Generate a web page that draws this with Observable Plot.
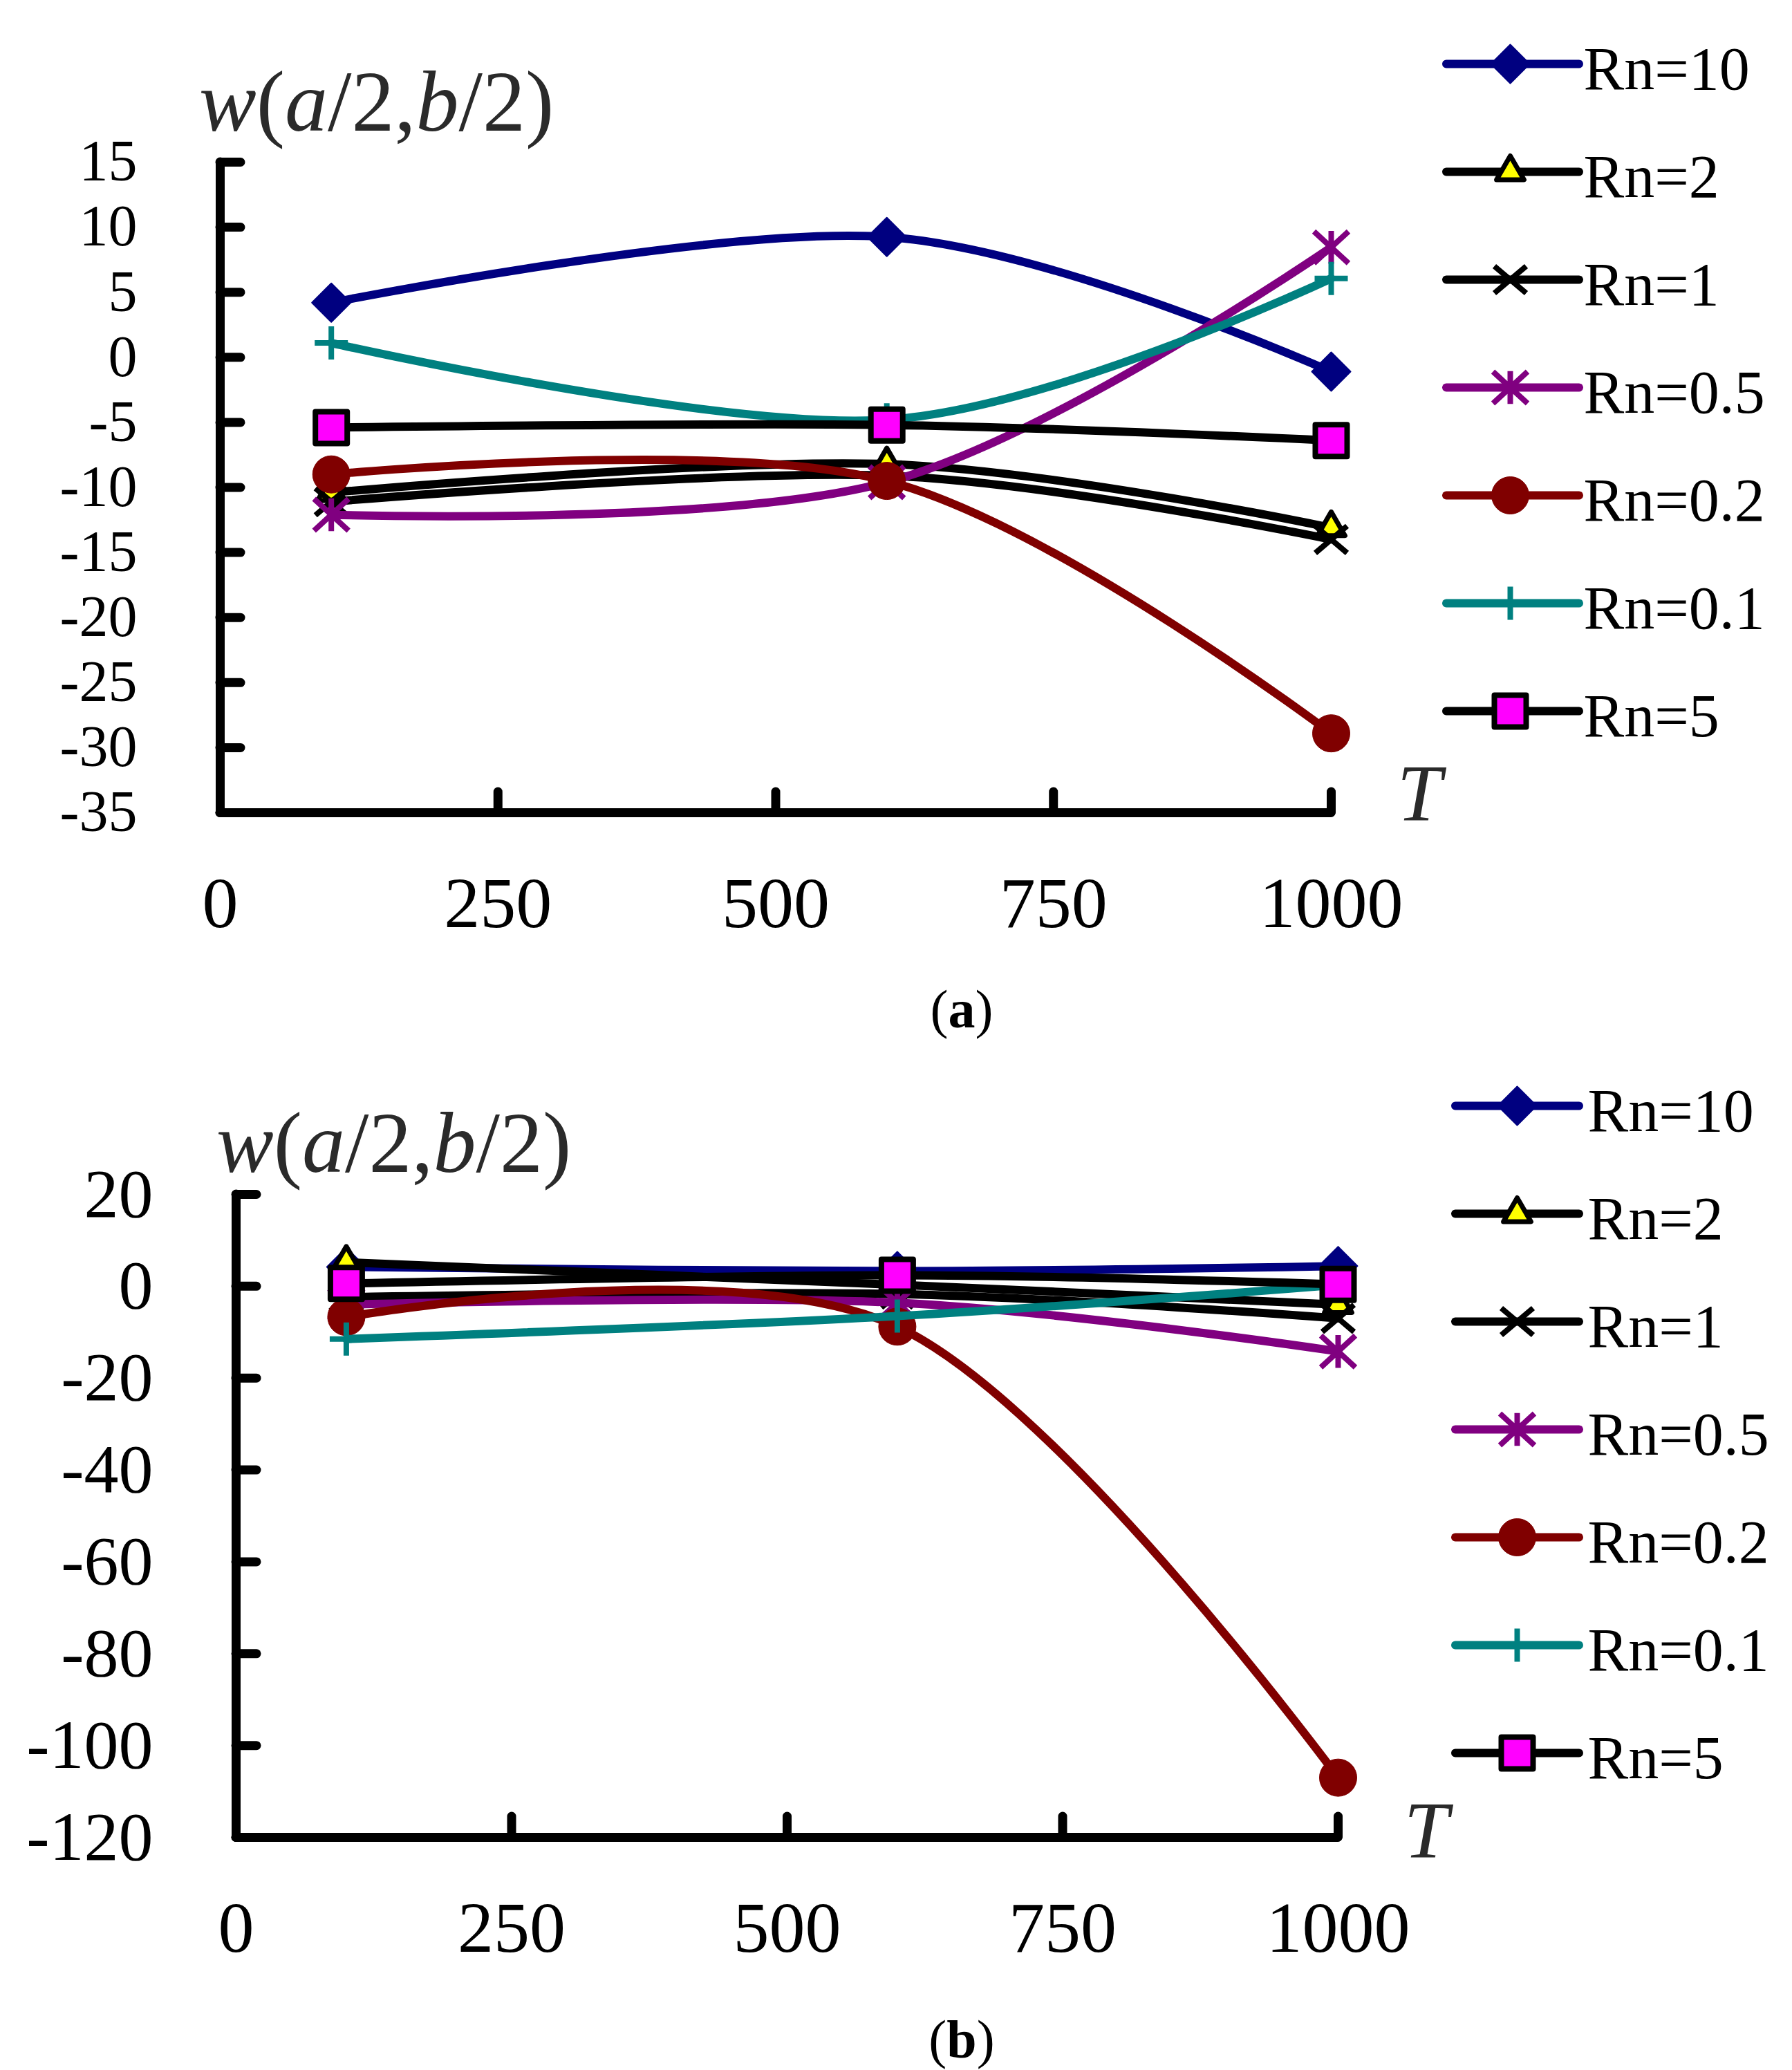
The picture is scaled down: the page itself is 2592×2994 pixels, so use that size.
<!DOCTYPE html>
<html><head><meta charset="utf-8">
<script src="https://cdn.jsdelivr.net/npm/d3@7"></script>
<script src="https://cdn.jsdelivr.net/npm/@observablehq/plot@0.6"></script>
<style>
html,body{margin:0;padding:0;background:#fff;}
#page{position:relative;width:2592px;height:2994px;overflow:hidden;background:#fff;font-family:'Liberation Serif','Times New Roman',serif;}
.abs{position:absolute;line-height:1;white-space:nowrap;font-family:'Liberation Serif','Times New Roman',serif;}
</style></head><body><div id="page"></div>
<script>
// ---------- data ----------
const T = [100, 600, 1000];
const xTickValues = [0, 250, 500, 750, 1000];
const yTicksA = [15, 10, 5, 0, -5, -10, -15, -20, -25, -30, -35];
const yTicksB = [20, 0, -20, -40, -60, -80, -100, -120];
const seriesNames = ["Rn=10", "Rn=2", "Rn=1", "Rn=0.5", "Rn=0.2", "Rn=0.1", "Rn=5"];

// panel (a)
const a_Rn10  = [4.2, 9.25, -1.1];
const a_Rn2   = [-10.4, -8.2, -13.1];
const a_Rn1   = [-11.1, -9.1, -14.0];
const a_Rn05  = [-12.1, -9.6, 8.45];
const a_Rn02  = [-9.0, -9.5, -28.9];
const a_Rn01  = [1.1, -4.8, 6.06];
const a_Rn5   = [-5.4, -5.2, -6.4];

// panel (b)
const b_Rn10  = [4.2, 3.3, 4.4];
const b_Rn2   = [5.2, 0.3, -4.0];
const b_Rn1   = [-2.4, -1.7, -7.0];
const b_Rn05  = [-4.0, -3.6, -14.2];
const b_Rn02  = [-6.7, -8.8, -107];
const b_Rn01  = [-11.5, -6.5, 0.3];
const b_Rn5   = [0.6, 2.4, 0.4];

const panelA = [a_Rn10, a_Rn2, a_Rn1, a_Rn05, a_Rn02, a_Rn01, a_Rn5];
const panelB = [b_Rn10, b_Rn2, b_Rn1, b_Rn05, b_Rn02, b_Rn01, b_Rn5];

// ---------- symbols ----------
const R = s => Math.sqrt(s / Math.PI);
const sym = {
  diamond: {draw(c, s) { const r = R(s); c.moveTo(0, -r); c.lineTo(r, 0); c.lineTo(0, r); c.lineTo(-r, 0); c.closePath(); }},
  triangle: {draw(c, s) { const r = R(s); c.moveTo(0, -r); c.lineTo(r * 0.866, r * 0.5); c.lineTo(-r * 0.866, r * 0.5); c.closePath(); }},
  times: {draw(c, s) { const r = R(s); c.moveTo(-r, -r * 0.85); c.lineTo(r, r * 0.85); c.moveTo(-r, r * 0.85); c.lineTo(r, -r * 0.85); }},
  star: {draw(c, s) { const r = R(s); c.moveTo(-r, -r * 0.92); c.lineTo(r, r * 0.92); c.moveTo(-r, r * 0.92); c.lineTo(r, -r * 0.92); c.moveTo(0, -r * 0.95); c.lineTo(0, r * 0.95); }},
  circle: {draw(c, s) { const r = R(s); c.moveTo(r, 0); c.arc(0, 0, r, 0, 2 * Math.PI); c.closePath(); }},
  plus: {draw(c, s) { const r = R(s); c.moveTo(-r, 0); c.lineTo(r, 0); c.moveTo(0, -r); c.lineTo(0, r); }},
  square: {draw(c, s) { const r = R(s); c.moveTo(-r, -r); c.lineTo(r, -r); c.lineTo(r, r); c.lineTo(-r, r); c.closePath(); }}
};

const styles = {
  "Rn=10":  {color: "#000080", marker: {symbol: sym.diamond, fill: "#000080", stroke: "#000080", strokeWidth: 2, r: 28}},
  "Rn=2":   {color: "#000000", marker: {symbol: sym.triangle, fill: "#ffff00", stroke: "#000000", strokeWidth: 7, r: 23}},
  "Rn=1":   {color: "#000000", marker: {symbol: sym.times, fill: "none", stroke: "#000000", strokeWidth: 8, r: 23}},
  "Rn=0.5": {color: "#800080", marker: {symbol: sym.star, fill: "none", stroke: "#800080", strokeWidth: 8, r: 25}},
  "Rn=0.2": {color: "#800000", marker: {symbol: sym.circle, fill: "#800000", stroke: "#800000", strokeWidth: 1, r: 27}},
  "Rn=0.1": {color: "#008080", marker: {symbol: sym.plus, fill: "none", stroke: "#008080", strokeWidth: 8, r: 24}},
  "Rn=5":   {color: "#000000", marker: {symbol: sym.square, fill: "#ff00ff", stroke: "#000000", strokeWidth: 8, r: 23}}
};

const page = document.getElementById("page");
const FONT = "'Liberation Serif', 'Times New Roman', serif";

function seriesMarks(panel) {
  const marks = [];
  seriesNames.forEach((name, k) => {
    const rows = T.map((t, i) => ({T: t, w: panel[k][i], name}));
    const st = styles[name];
    marks.push(Plot.line(rows, {x: "T", y: "w", stroke: st.color, strokeWidth: 12, curve: "cardinal", tension: 0, strokeLinecap: "round", strokeLinejoin: "round"}));
    marks.push(Plot.dot(rows, {x: "T", y: "w", ...st.marker, strokeLinejoin: "round"}));
  });
  return marks;
}

function chart({panel, yTicks, yDomain, yFont, width, height, mt, mb, ml, mr, top}) {
  const plotW = width - ml - mr, plotH = height - mt - mb;
  const svg = Plot.plot({
    width, height,
    marginTop: mt, marginBottom: mb, marginLeft: ml, marginRight: mr,
    x: {domain: [0, 1000], label: null},
    y: {domain: yDomain, label: null},
    style: {fontFamily: FONT, background: "transparent", overflow: "visible"},
    marks: [
      Plot.axisY({ticks: yTicks, tickSize: 0, tickPadding: 120, tickFormat: d => String(d), fontSize: yFont, fill: "#000", label: null}),
      Plot.axisX({ticks: xTickValues, tickSize: 0, tickPadding: 92, tickFormat: d => String(d), fontSize: 104, fill: "#000", label: null}),
      Plot.ruleX(xTickValues.filter(d => d > 0), {stroke: "#000", strokeWidth: 13, strokeLinecap: "round", insetTop: plotH - 30}),
      Plot.ruleY(yTicks, {stroke: "#000", strokeWidth: 13, strokeLinecap: "round", insetRight: plotW - 30}),
      Plot.ruleX([0], {stroke: "#000", strokeWidth: 13, strokeLinecap: "round"}),
      Plot.ruleY([yDomain[0]], {stroke: "#000", strokeWidth: 13, strokeLinecap: "round"}),
      ...seriesMarks(panel)
    ]
  });
  svg.style.position = "absolute";
  svg.style.left = "0px";
  svg.style.top = top + "px";
  page.appendChild(svg);
}

function legend({left, top, lineLen, markerDx, textDx, mt, height}) {
  const w = 500;
  const marks = [];
  seriesNames.forEach(name => {
    const st = styles[name];
    marks.push(Plot.ruleY([name], {y: d => d, stroke: st.color, strokeWidth: 12, strokeLinecap: "round", insetRight: w - lineLen}));
    marks.push(Plot.dot([name], {y: d => d, frameAnchor: "left", dx: markerDx, ...st.marker, strokeLinejoin: "round"}));
  });
  marks.push(Plot.text(seriesNames, {y: d => d, text: d => d, frameAnchor: "left", dx: textDx, dy: 8, textAnchor: "start", fontSize: 88, fill: "#000"}));
  const svg = Plot.plot({
    width: w, height,
    marginTop: mt, marginBottom: height - mt - 6 * 156, marginLeft: 0, marginRight: 0,
    x: {axis: null, domain: [0, 1]},
    y: {type: "point", domain: seriesNames, padding: 0, axis: null},
    style: {fontFamily: FONT, background: "transparent", overflow: "visible"},
    marks
  });
  svg.style.position = "absolute";
  svg.style.left = left + "px";
  svg.style.top = top + "px";
  page.appendChild(svg);
}

function label(html, {left, top, size, anchor = "center", color = "#222"}) {
  const d = document.createElement("div");
  d.className = "abs";
  d.innerHTML = html;
  d.style.left = left + "px";
  d.style.top = top + "px";
  d.style.fontSize = size + "px";
  d.style.color = color;
  d.style.transform = anchor === "center" ? "translate(-50%,-50%)" : "translate(0,-50%)";
  page.appendChild(d);
}

// panel (a)
chart({panel: panelA, yTicks: yTicksA, yDomain: [-35, 15], yFont: 84, width: 2592, height: 1400, mt: 234, mb: 225, ml: 318, mr: 667, top: 0});
legend({left: 2092, top: 0, lineLen: 192, markerDx: 92, textDx: 198, mt: 92, height: 1100});
label("<i>w</i>(<i>a</i>/2,<i>b</i>/2)", {left: 288, top: 148, size: 124, anchor: "left", color: "#2a2a2a"});
label("<i>T</i>", {left: 2053, top: 1148, size: 116, color: "#2a2a2a"});
label("(<b>a</b>)", {left: 1391, top: 1460, size: 78, color: "#000"});

// panel (b)
chart({panel: panelB, yTicks: yTicksB, yDomain: [-120, 20], yFont: 100, width: 2592, height: 1494, mt: 227, mb: 337, ml: 341, mr: 657, top: 1500});
legend({left: 2105, top: 1500, lineLen: 179, markerDx: 89, textDx: 191, mt: 99, height: 1100});
label("<i>w</i>(<i>a</i>/2,<i>b</i>/2)", {left: 313, top: 1654, size: 124, anchor: "left", color: "#2a2a2a"});
label("<i>T</i>", {left: 2063, top: 2648, size: 116, color: "#2a2a2a"});
label("(<b>b</b>)", {left: 1391, top: 2950, size: 78, color: "#000"});
</script>
</body></html>
